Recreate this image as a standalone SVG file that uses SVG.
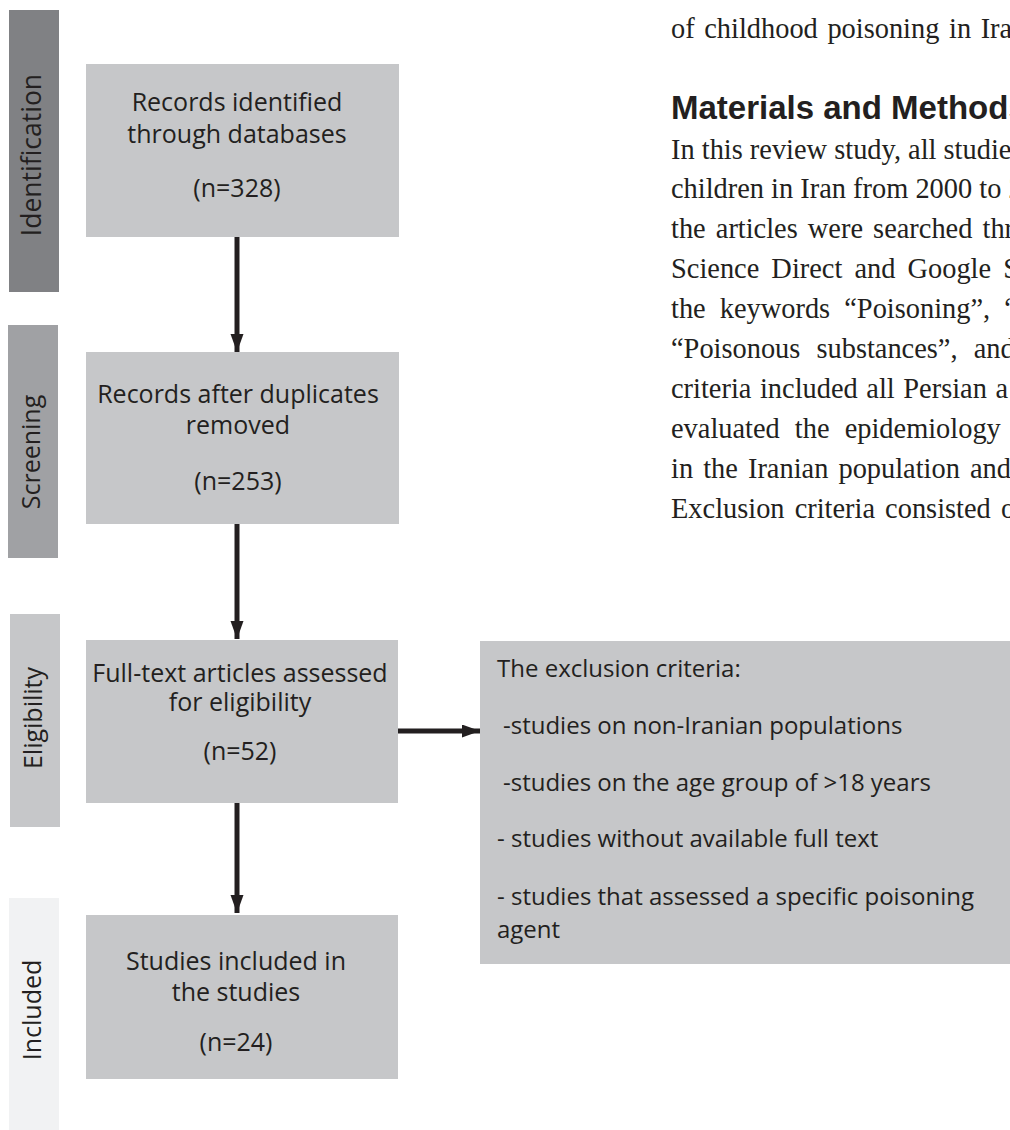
<svg xmlns="http://www.w3.org/2000/svg" width="1010" height="1130" viewBox="0 0 1010 1130">
<defs>
<style>
.box{fill:#c6c7c9;}
.t{font-family:"Open Sans","Noto Sans",sans-serif;font-size:25px;fill:#231f20;}
.x{font-family:"Open Sans","Noto Sans",sans-serif;font-size:24px;fill:#231f20;}
.c{text-anchor:middle;}
.side{font-family:"Open Sans","Noto Sans",sans-serif;font-size:25px;fill:#231f20;text-anchor:middle;}
.body{font-family:"Liberation Serif","Times New Roman",serif;font-size:28.4px;fill:#231f20;}
.head{font-family:"Liberation Sans",Arial,sans-serif;font-size:33px;font-weight:bold;fill:#231f20;}
.conn{stroke:#231f20;stroke-width:5;fill:none;}
</style>
<marker id="ah" markerUnits="userSpaceOnUse" markerWidth="20" markerHeight="14" refX="18" refY="6.5" orient="auto">
<path d="M0,0 L18,6.5 L0,13 Z" fill="#231f20"/>
</marker>
</defs>
<rect width="1010" height="1130" fill="#ffffff"/>

<g id="page-text">
<text class="body" x="671" y="38" word-spacing="2.5">of childhood poisoning in Iran</text>
<text class="head" x="671" y="119">Materials and Methods</text>
<text class="body" x="671" y="159">In this review study, all studies</text>
<text class="body" x="671" y="198">children in Iran from 2000 to 2</text>
<text class="body" x="671" y="238" word-spacing="3">the articles were searched thr</text>
<text class="body" x="671" y="278" word-spacing="5">Science Direct and Google S</text>
<text class="body" x="671" y="318" word-spacing="7">the keywords “Poisoning”, “</text>
<text class="body" x="671" y="358" word-spacing="9">“Poisonous substances”, and</text>
<text class="body" x="671" y="398" word-spacing="1.5">criteria included all Persian a</text>
<text class="body" x="671" y="438" word-spacing="8">evaluated the epidemiology</text>
<text class="body" x="671" y="478" word-spacing="3">in the Iranian population and</text>
<text class="body" x="671" y="518" word-spacing="3">Exclusion criteria consisted o</text>
</g>

<g id="stage-identification">
<rect x="9" y="10" width="50" height="282" fill="#808184"/>
<text class="side" style="font-size:26.5px" transform="translate(41,155) rotate(-90)">Identification</text>
</g>
<g id="stage-screening">
<rect x="8" y="325" width="50" height="233" fill="#a0a1a4"/>
<text class="side" transform="translate(40,452) rotate(-90)">Screening</text>
</g>
<g id="stage-eligibility">
<rect x="10" y="614" width="50" height="213" fill="#c6c7c9"/>
<text class="side" transform="translate(42,718) rotate(-90)">Eligibility</text>
</g>
<g id="stage-included">
<rect x="9" y="898" width="50" height="232" fill="#f1f2f3"/>
<text class="side" transform="translate(41,1010) rotate(-90)">Included</text>
</g>

<g id="node-identified">
<rect class="box" x="86" y="64" width="313" height="173"/>
<text class="t c" x="237" y="111">Records identified</text>
<text class="t c" x="237" y="143">through databases</text>
<text class="t c" x="237" y="197">(n=328)</text>
</g>
<g id="node-screened">
<rect class="box" x="86" y="352" width="313" height="172"/>
<text class="t c" x="238" y="403">Records after duplicates</text>
<text class="t c" x="238" y="434">removed</text>
<text class="t c" x="238" y="490">(n=253)</text>
</g>
<g id="node-eligible">
<rect class="box" x="86" y="640" width="312" height="163"/>
<text class="t c" x="240" y="682">Full-text articles assessed</text>
<text class="t c" x="240" y="711">for eligibility</text>
<text class="t c" x="240" y="760">(n=52)</text>
</g>
<g id="node-included">
<rect class="box" x="86" y="915" width="312" height="164"/>
<text class="t c" x="236" y="970">Studies included in</text>
<text class="t c" x="236" y="1001">the studies</text>
<text class="t c" x="236" y="1051">(n=24)</text>
</g>
<g id="node-exclusion">
<rect class="box" x="480" y="641" width="540" height="323"/>
<text class="x" x="497" y="677">The exclusion criteria:</text>
<text class="x" x="503" y="734">-studies on non-Iranian populations</text>
<text class="x" x="503" y="791">-studies on the age group of &gt;18 years</text>
<text class="x" x="497" y="847">- studies without available full text</text>
<text class="x" x="497" y="905">- studies that assessed a specific poisoning</text>
<text class="x" x="497" y="938">agent</text>
</g>

<g id="connectors">
<line class="conn" x1="237" y1="237" x2="237" y2="352" marker-end="url(#ah)"/>
<line class="conn" x1="237" y1="524" x2="237" y2="639" marker-end="url(#ah)"/>
<line class="conn" x1="237" y1="803" x2="237" y2="913" marker-end="url(#ah)"/>
<line class="conn" x1="398" y1="731" x2="480" y2="731" marker-end="url(#ah)"/>
</g>
</svg>
